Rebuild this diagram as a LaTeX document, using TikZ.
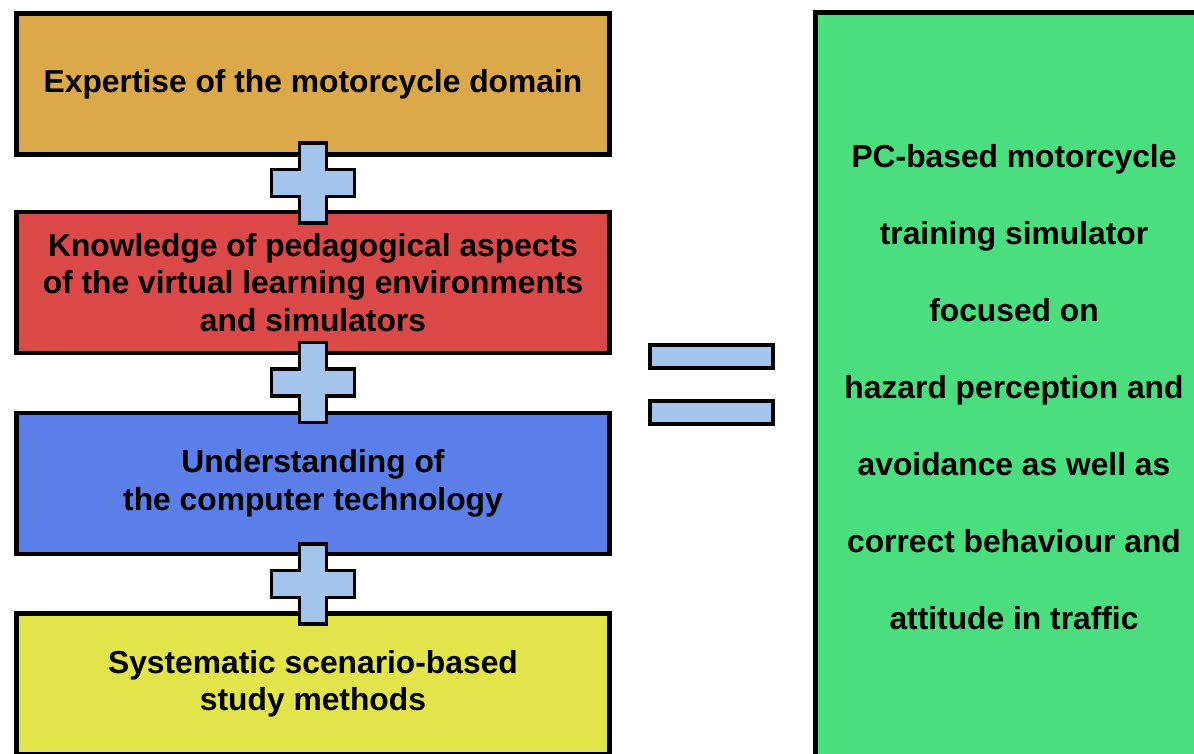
\documentclass[tikz,border=0pt]{standalone}
\usepackage{fontspec}
\setmainfont{Liberation Sans}
\usepackage{xcolor}
\usepackage{tikz}
\usetikzlibrary{positioning}

\definecolor{boxorange}{HTML}{DBA84A}
\definecolor{boxred}{HTML}{DB4848}
\definecolor{boxblue}{HTML}{5B7EE8}
\definecolor{boxyellow}{HTML}{E2E44C}
\definecolor{boxgreen}{HTML}{4ADE7E}
\definecolor{opblue}{HTML}{A4C4EC}

\begin{document}
\begin{tikzpicture}[
  x=0.025cm, y=-0.025cm,
  part/.style={draw=black, line width=3.5pt, minimum width=14.825cm, minimum height=3.525cm,
    align=center, inner sep=0pt, font=\bfseries\fontsize{22.6}{26.7}\selectfont},
  result/.style={draw=black, line width=3.5pt, fill=boxgreen, minimum width=9.925cm,
    minimum height=18.725cm, align=center, inner sep=0pt,
    font=\bfseries\fontsize{22.6}{54.8}\selectfont},
  op/.style={draw=black, line width=2.8pt, fill=opblue},
  bar/.style={op, minimum width=3.075cm, minimum height=0.575cm, inner sep=0pt}
]
\useasboundingbox (0,0) rectangle (1194,754);
\clip (0,0) rectangle (1194,754);
% ingredients
\node[part, fill=boxorange] (expertise) at (313,84) {Expertise of the motorcycle domain};
\node[part, fill=boxred] (pedagogy) at (313,282.5) {Knowledge of pedagogical aspects\\of the virtual learning environments\\and simulators};
\node[part, fill=boxblue] (technology) at (313,483.5) {Understanding of\\the computer technology};
\node[part, fill=boxyellow] (methods) at (313,684) {Systematic scenario-based\\study methods};
% plus signs
\foreach \y in {183,382.5,584}
  \draw[op, shift={(313,\y)}] (-13.5,-40) -- (13.5,-40) -- (13.5,-13.5) -- (41.5,-13.5)
    -- (41.5,13.5) -- (13.5,13.5) -- (13.5,40) -- (-13.5,40) -- (-13.5,13.5)
    -- (-41.5,13.5) -- (-41.5,-13.5) -- (-13.5,-13.5) -- cycle;
% equals sign
\node[bar] (eqtop) at (711.5,356.5) {};
\node[bar] (eqbot) at (711.5,412.5) {};
% simulator
\node[result] (simulator) at (1014,387) {PC-based motorcycle\\training simulator\\focused on\\hazard perception and\\avoidance as well as\\correct behaviour and\\attitude in traffic};
\end{tikzpicture}
\end{document}
